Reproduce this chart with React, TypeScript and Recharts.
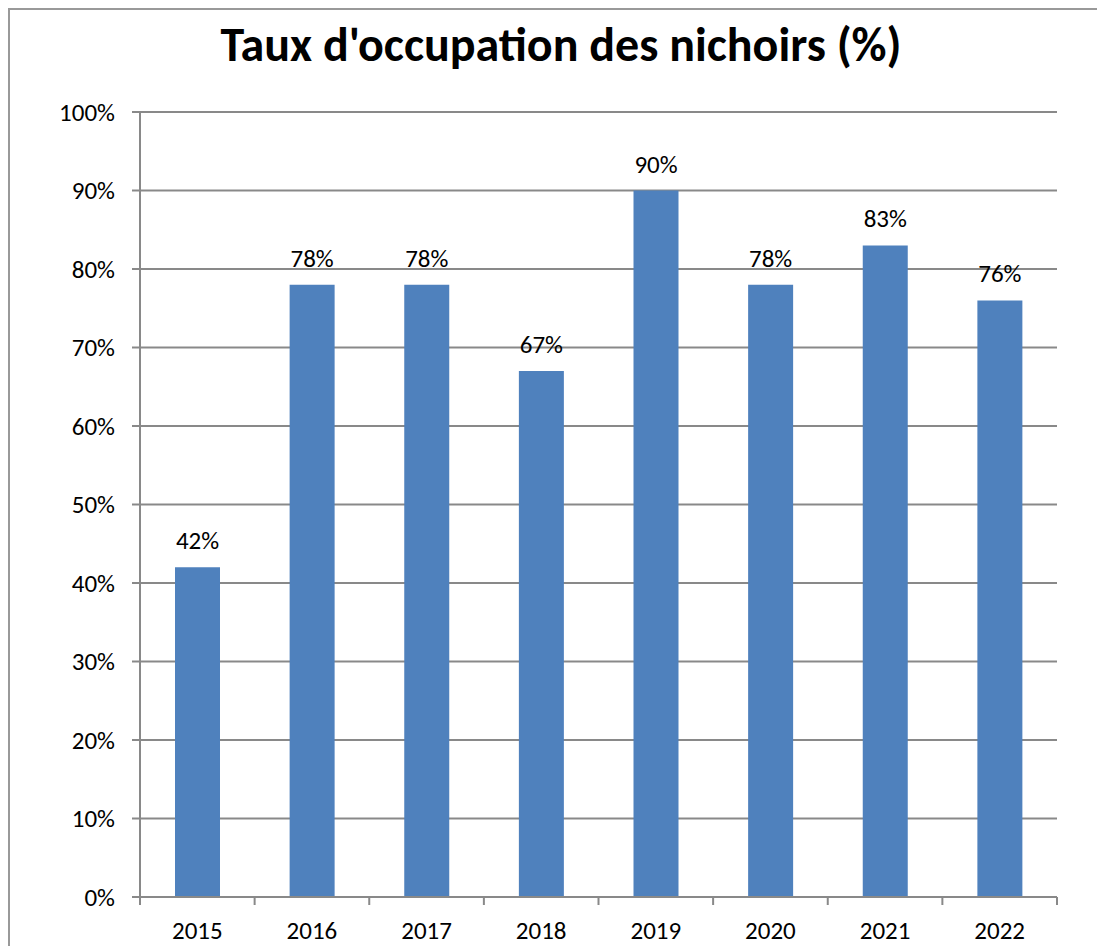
import React from 'react';
import { BarChart, Bar, XAxis, YAxis, CartesianGrid, LabelList } from 'recharts';

const years = ['2015', '2016', '2017', '2018', '2019', '2020', '2021', '2022'];
const occupancy = [42, 78, 78, 67, 90, 78, 83, 76];
const yTicks = [0, 10, 20, 30, 40, 50, 60, 70, 80, 90, 100];

const data = years.map((year, i) => ({ year, value: occupancy[i] }));

const W = 1097;
const H = 946;
const Y_AXIS_W = 140;
const MARGIN = { top: 112, right: 40, bottom: 0, left: 0 };
const X_AXIS_H = 49;
const BAND = (W - Y_AXIS_W - MARGIN.right) / years.length;

const FONT = 'Carlito, Calibri, Lato, "Open Sans", sans-serif';
const GRID = '#898989';
const FS = 25;

// labels centred on the bar, tick marks on category boundaries (Excel style)
const YearTick = (props: any) => {
    const { x, y, payload, index } = props;
    const last = index === years.length - 1;
    return (
        <g>
            <line x1={x - BAND / 2} y1={y} x2={x - BAND / 2} y2={y + 8} stroke={GRID} strokeWidth={2} />
            {last && <line x1={x + BAND / 2} y1={y} x2={x + BAND / 2} y2={y + 8} stroke={GRID} strokeWidth={2} />}
            <text x={x} y={y + 42} textAnchor="middle" fontSize={FS} fill="#000" fontFamily={FONT}>
                {payload.value}
            </text>
        </g>
    );
};

export default function App() {
    return (
        <div style={{ position: 'fixed', left: 0, top: 0, width: W, height: H, overflow: 'hidden', background: '#fff' }}>
            <div style={{ position: 'absolute', left: 8, top: 8, width: 1200, height: 1100, border: '2px solid #999', boxSizing: 'border-box' }} />
            <div style={{ position: 'absolute', left: 0, top: 21, width: 1122, textAlign: 'center', fontFamily: FONT, fontWeight: 700, fontSize: 48, color: '#000', lineHeight: '48px', whiteSpace: 'nowrap' }}>
                Taux d'occupation des nichoirs (%)
            </div>
            <div style={{ position: 'absolute', left: 0, top: 0 }}>
                <BarChart width={W} height={H} data={data} margin={MARGIN}>
                    <CartesianGrid vertical={false} stroke={GRID} strokeWidth={2} />
                    <XAxis
                        dataKey="year"
                        height={X_AXIS_H}
                        axisLine={{ stroke: GRID, strokeWidth: 2 }}
                        tickLine={false}
                        tickSize={0}
                        tickMargin={0}
                        tick={<YearTick />}
                        interval={0}
                    />
                    <YAxis
                        width={Y_AXIS_W}
                        domain={[0, 100]}
                        ticks={yTicks}
                        interval={0}
                        tickFormatter={(v: number) => `${v}%`}
                        axisLine={{ stroke: GRID, strokeWidth: 2 }}
                        tickLine={{ stroke: GRID, strokeWidth: 2 }}
                        tickSize={8}
                        tickMargin={17}
                        tick={{ fill: '#000', fontSize: FS, fontFamily: FONT }}
                    />
                    <Bar dataKey="value" fill="#4F81BD" barSize={45} isAnimationActive={false}>
                        <LabelList
                            dataKey="value"
                            position="top"
                            offset={18}
                            formatter={(v: any) => `${v}%`}
                            style={{ fill: '#000', fontSize: FS, fontFamily: FONT }}
                        />
                    </Bar>
                </BarChart>
            </div>
        </div>
    );
}
